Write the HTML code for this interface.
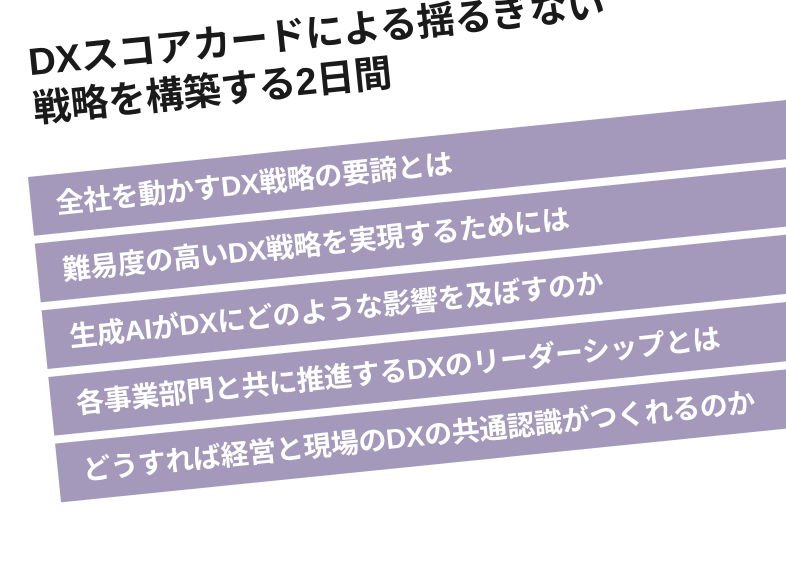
<!DOCTYPE html>
<html><head><meta charset="utf-8"><style>
html,body{margin:0;padding:0;background:#fff;}
body{width:786px;height:514px;overflow:hidden;position:relative;}
#f{position:absolute;left:28px;top:177px;width:1000px;height:400px;transform-origin:0 0;transform:rotate(-5.8deg);}
.t{position:absolute;left:12px;top:-136px;font:bold 38px/47px "Liberation Sans","Noto Sans CJK JP",sans-serif;color:#1a1a1a;white-space:nowrap;letter-spacing:-0.3px;}
.b{position:absolute;left:0;width:1000px;height:59px;background:#a599bb;color:#fff;font:bold 28px/59px "Liberation Sans","Noto Sans CJK JP",sans-serif;padding-left:25px;box-sizing:border-box;white-space:nowrap;letter-spacing:-0.3px;}
</style></head><body>
<div id="f">
<div class="t">DXスコアカードによる揺るぎない<br>戦略を構築する2日間</div>
<div class="b" style="top:0">全社を動かすDX戦略の要諦とは</div>
<div class="b" style="top:67px">難易度の高いDX戦略を実現するためには</div>
<div class="b" style="top:134px">生成AIがDXにどのような影響を及ぼすのか</div>
<div class="b" style="top:201px">各事業部門と共に推進するDXのリーダーシップとは</div>
<div class="b" style="top:268px">どうすれば経営と現場のDXの共通認識がつくれるのか</div>
</div>
</body></html>
